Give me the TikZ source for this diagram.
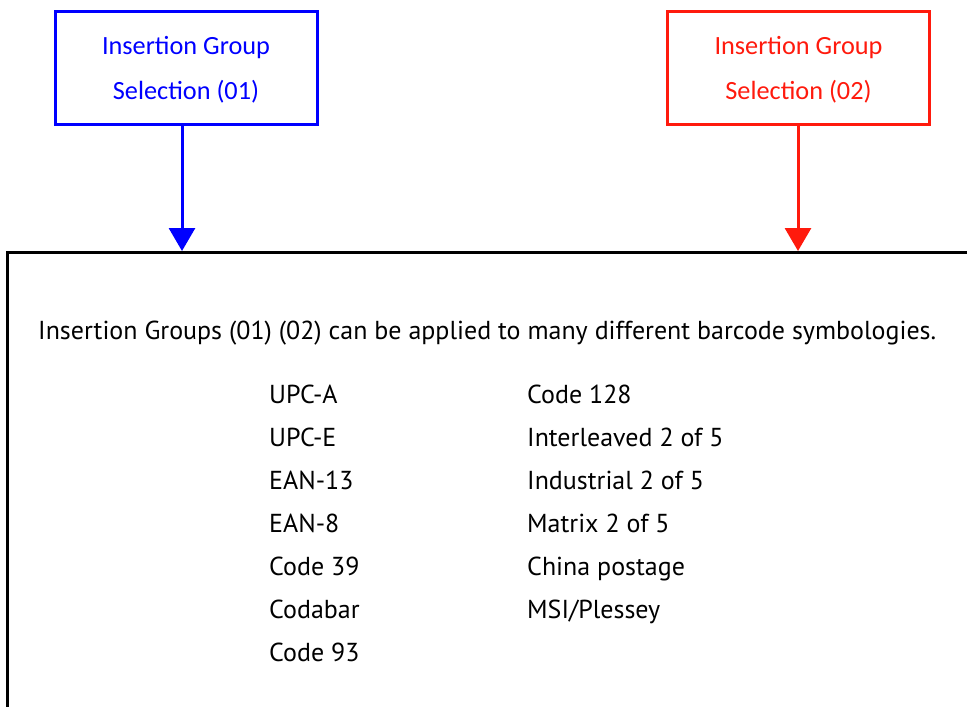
\documentclass[tikz,border=0pt]{standalone}
\usepackage{fontspec}
\setmainfont{PT Sans}
\newfontfamily\boxfont{Carlito}
\usetikzlibrary{arrows.meta}
\definecolor{igblue}{RGB}{0,0,255}
\definecolor{igred}{RGB}{255,26,13}
\newlength\mwidth
\newlength\bwidth
\newcommand\bodyfnt{\fontsize{\bsz}{\bsz}\selectfont}
\newcommand\boxfnt{\boxfont\fontsize{\bxsz}{\bxsz}\selectfont}
\begin{document}
\settowidth\mwidth{\normalfont\fontsize{10}{12}\selectfont Insertion Groups (01) (02) can be applied to many different barcode symbologies.}%
\pgfmathsetmacro\bsz{10*898/\mwidth}%
\settowidth\bwidth{\boxfont\fontsize{10}{12}\selectfont Insertion Group}%
\pgfmathsetmacro\bxsz{10*168/\bwidth}%
\begin{tikzpicture}[x=1pt,y=-1pt,
  selbox/.style={draw, line width=3pt, minimum width=262pt, minimum height=113pt, inner sep=0pt},
  boxtxt/.style={anchor=base, font=\boxfnt, inner sep=0pt},
  bodytxt/.style={anchor=base west, font=\bodyfnt, inner sep=0pt},
  selarrow/.style={line width=3pt, -{Triangle[width=26pt,length=23pt]}},
  frame/.style={line width=3pt}]
\useasboundingbox (0,0) rectangle (967,707);
% selection boxes
\node[selbox, draw=igblue] (b1) at (186,67.5) {};
\node[boxtxt, text=igblue] (b1l1) at (186,54) {Insertion Group};
\node[boxtxt, text=igblue] (b1l2) at (186,99) {Selection (01)};
\node[selbox, draw=igred] (b2) at (798.5,67.5) {};
\node[boxtxt, text=igred] (b2l1) at (798.5,54) {Insertion Group};
\node[boxtxt, text=igred] (b2l2) at (798.5,99) {Selection (02)};
% big frame (open to right and bottom)
\coordinate (fr) at (967,252.5);
\coordinate (ftl) at (7.5,252.5);
\coordinate (fb) at (7.5,707);
\draw[frame] (fr) -- (ftl) -- (fb);
% arrows
\coordinate (a1s) at (182,124);
\coordinate (a1e) at (182,251);
\coordinate (a2s) at (798,124);
\coordinate (a2e) at (798,251);
\draw[selarrow, igblue] (a1s) -- (a1e);
\draw[selarrow, igred] (a2s) -- (a2e);
% text
\node[bodytxt] (intro) at (38,339) {Insertion Groups (01) (02) can be applied to many different barcode symbologies.};
\foreach \t [count=\i from 0] in {UPC-A,UPC-E,EAN-13,EAN-8,Code 39,Codabar,Code 93}
  \node[bodytxt] (l\i) at (269,403+43*\i) {\t};
\foreach \t [count=\i from 0] in {Code 128,Interleaved 2 of 5,Industrial 2 of 5,Matrix 2 of 5,China postage,MSI/Plessey}
  \node[bodytxt] (r\i) at (527,403+43*\i) {\t};
\end{tikzpicture}
\end{document}
